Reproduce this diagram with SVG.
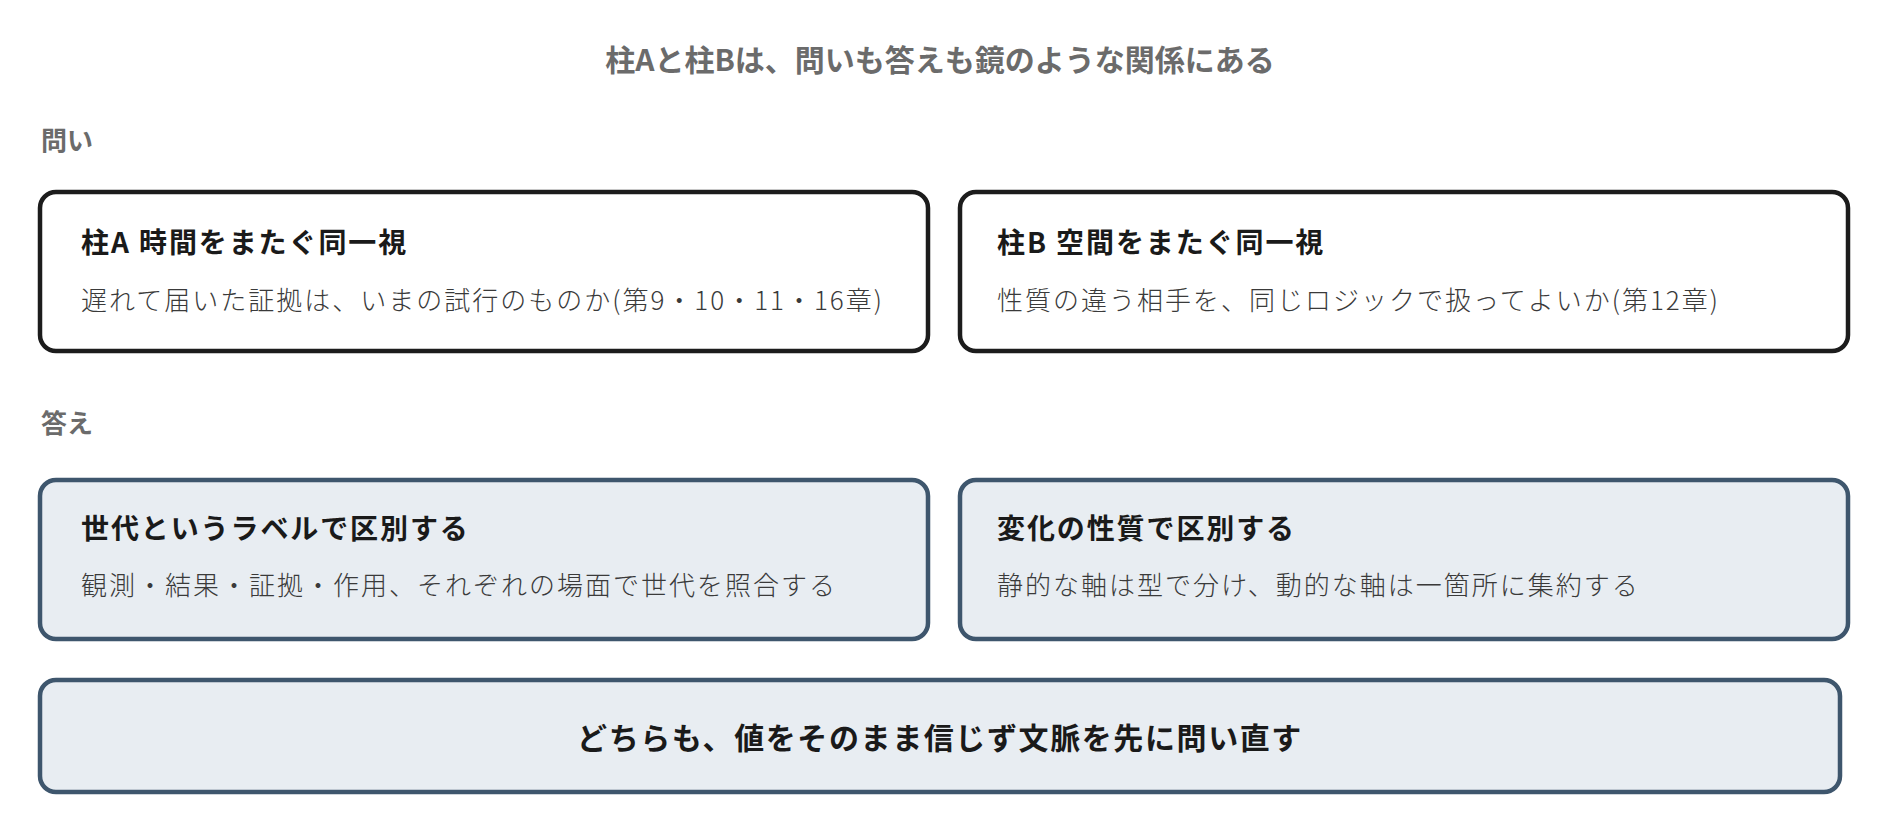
<svg xmlns="http://www.w3.org/2000/svg" width="1880" height="832" viewBox="0 0 1880 832">
<style>
text{font-family:"Noto Sans CJK JP","Noto Sans CJK SC",sans-serif;}
.hdr{font-size:30px;font-weight:700;fill:#6b6b6b;}
.lbl{font-size:26px;font-weight:700;fill:#6b6b6b;}
.q{fill:#ffffff;stroke:#1c1c1c;stroke-width:4.5;}
.a{fill:#e8edf2;stroke:#3e566d;stroke-width:4.5;}
.t{font-size:28px;font-weight:700;fill:#1a1a1a;letter-spacing:1.9px;}
.s{font-size:26px;font-weight:300;fill:#3a3a3a;letter-spacing:2px;}
.b{font-size:30px;font-weight:700;fill:#1a1a1a;letter-spacing:1.6px;}
</style>
<rect width="1880" height="832" fill="#ffffff"/>
<text class="hdr" x="940" y="71" text-anchor="middle">柱Aと柱Bは、問いも答えも鏡のような関係にある</text>
<text class="lbl" x="41" y="150">問い</text>
<text class="lbl" x="41" y="433">答え</text>
<g id="pillarA">
<rect class="q" x="40" y="192" width="888" height="159" rx="16"/>
<text class="t" x="81" y="253">柱A 時間をまたぐ同一視</text>
<text class="s" x="81" y="310">遅れて届いた証拠は、いまの試行のものか(第9・10・11・16章)</text>
</g>
<g id="pillarB">
<rect class="q" x="960" y="192" width="888" height="159" rx="16"/>
<text class="t" x="997" y="253">柱B 空間をまたぐ同一視</text>
<text class="s" x="997" y="310">性質の違う相手を、同じロジックで扱ってよいか(第12章)</text>
</g>
<g id="answerA">
<rect class="a" x="40" y="480" width="888" height="159" rx="16"/>
<text class="t" x="81" y="538.5">世代というラベルで区別する</text>
<text class="s" x="81" y="595">観測・結果・証拠・作用、それぞれの場面で世代を照合する</text>
</g>
<g id="answerB">
<rect class="a" x="960" y="480" width="888" height="159" rx="16"/>
<text class="t" x="997" y="538.5">変化の性質で区別する</text>
<text class="s" x="997" y="595">静的な軸は型で分け、動的な軸は一箇所に集約する</text>
</g>
<g id="conclusion">
<rect class="a" x="40" y="680" width="1800" height="112" rx="16"/>
<text class="b" x="940" y="749" text-anchor="middle">どちらも、値をそのまま信じず文脈を先に問い直す</text>
</g>
<g id="connectors"></g>
</svg>
